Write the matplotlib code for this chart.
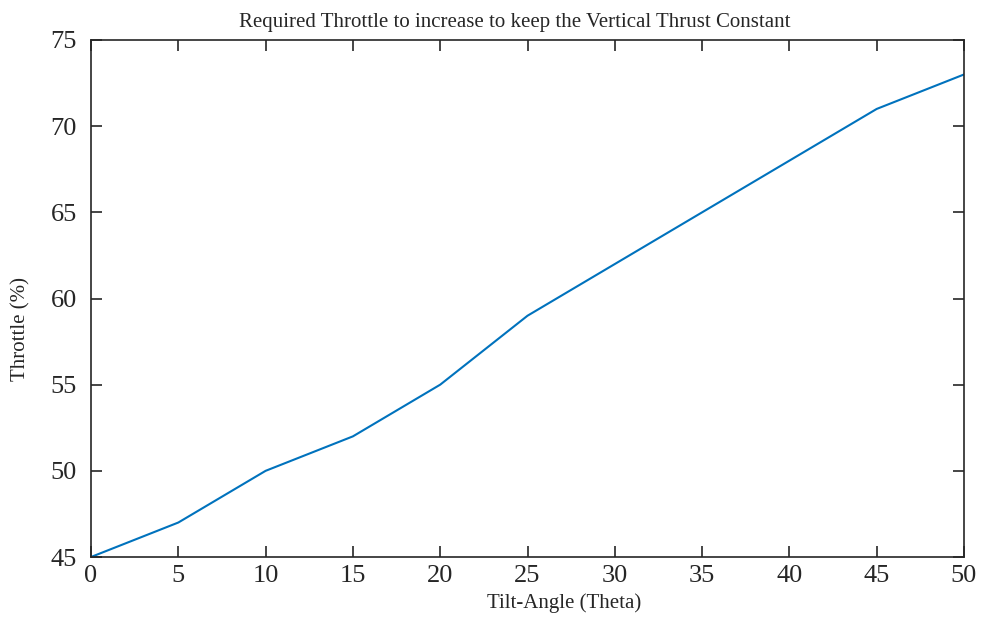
import matplotlib
matplotlib.use("Agg")
import matplotlib.pyplot as plt

# tilt angle vs throttle needed
tilt_angle = [0, 5, 10, 15, 20, 25, 30, 35, 40, 45, 50]
throttle = [45, 47, 50, 52, 55, 59, 62, 65, 68, 71, 73]

plt.rcParams['font.family'] = ['Liberation Serif', 'DejaVu Serif']

fig = plt.figure(figsize=(9.85, 6.21), dpi=100)
ax = fig.add_axes([91 / 985, 1 - 557 / 621, 873 / 985, 517 / 621])

ax.plot(tilt_angle, throttle, color='#0072BD', linewidth=1.5)

ax.set_xlim(0, 50)
ax.set_ylim(45, 75)
ax.set_xticks(range(0, 51, 5))
ax.set_yticks(range(45, 76, 5))

for s in ax.spines.values():
    s.set_color('#262626')
    s.set_linewidth(1.2)
ax.tick_params(direction='in', length=8, width=1.2, color='#262626',
               top=True, right=True, labelsize=19, labelcolor='#262626')
ax.tick_params(axis='y', pad=10)
ax.tick_params(axis='x', pad=6)

ax.set_title('Required Throttle to increase to keep the Vertical Thrust Constant',
             fontsize=15, color='#262626', pad=9, x=(515 - 91) / 873)
ax.set_xlabel('Tilt-Angle (Theta)', fontsize=15, color='#262626')
ax.set_ylabel('Throttle (%)', fontsize=15, color='#262626')
ax.xaxis.set_label_coords((564 - 91) / 873, -36 / 517)
ax.yaxis.set_label_coords(-61 / 873, (557 - 329) / 517)

fig.savefig('out.png', dpi=100)
